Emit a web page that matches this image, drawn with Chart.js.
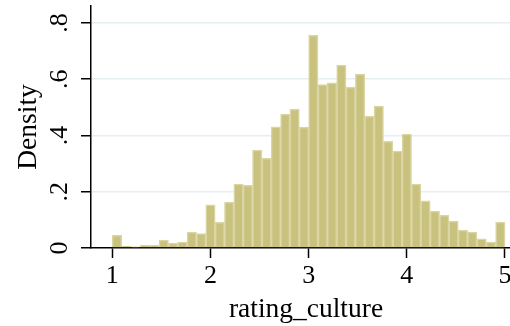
<!DOCTYPE html>
<html>
<head>
<meta charset="utf-8">
<script src="https://cdn.jsdelivr.net/npm/chart.js@4.4.1/dist/chart.umd.min.js"></script>
<style>
  html, body { margin: 0; padding: 0; background: #fff; overflow: hidden; }
  #wrap { width: 510px; height: 326px; overflow: hidden; }
</style>
</head>
<body>
<div id="wrap"><canvas id="hist" width="521" height="326"></canvas></div>
<script>
// ============================================================
// DATA — histogram of rating_culture (42 bins from 1 to 5)
// ============================================================
const binLow  = 1;
const binHigh = 5;
const density = [
  0.045, 0.006, 0.004, 0.010, 0.010, 0.028, 0.017, 0.021, 0.057, 0.051,
  0.153, 0.091, 0.163, 0.227, 0.223, 0.348, 0.319, 0.431, 0.476, 0.494,
  0.430, 0.756, 0.581, 0.587, 0.650, 0.572, 0.618, 0.468, 0.504, 0.379,
  0.344, 0.405, 0.227, 0.168, 0.131, 0.116, 0.096, 0.064, 0.057, 0.033,
  0.021, 0.092
];
const xTickValues = [1, 2, 3, 4, 5];
const xTickLabels = ['1', '2', '3', '4', '5'];
const yTickValues = [0, 0.2, 0.4, 0.6, 0.8];
const yTickLabels = ['0', '.2', '.4', '.6', '.8'];

const binWidth = (binHigh - binLow) / density.length;
const points = density.map((d, i) => ({ x: binLow + (i + 0.5) * binWidth, y: d }));

const serif = "'Liberation Serif', 'Times New Roman', serif";

// ============================================================
// CHART
// ============================================================
new Chart(document.getElementById('hist'), {
  type: 'bar',
  data: {
    datasets: [{
      data: points,
      backgroundColor: '#c9c17e',
      borderColor: '#dad5a3',
      borderWidth: 1.5,
      barPercentage: 1,
      categoryPercentage: 1
    }]
  },
  options: {
    responsive: false,
    animation: false,
    layout: { padding: { top: 6, right: 0, left: 0, bottom: 0 } },
    plugins: { legend: { display: false }, tooltip: { enabled: false } },
    scales: {
      x: {
        type: 'linear',
        min: 0.783,
        max: 5.163,
        offset: false,
        afterBuildTicks: s => { s.ticks = xTickValues.map(v => ({ value: v })); },
        afterFit: s => { s.height = 78; s.paddingLeft = 0; s.paddingRight = 0; },
        ticks: {
          color: '#000',
          font: { family: serif, size: 26 },
          padding: 3,
          maxRotation: 0,
          autoSkip: false,
          callback: v => xTickLabels[xTickValues.indexOf(v)]
        },
        grid: {
          offset: false, drawOnChartArea: false, drawTicks: true,
          tickLength: 10, tickColor: '#000', tickWidth: 1.5
        },
        border: { display: true, color: '#000', width: 1.5 },
        title: {
          display: true, text: 'rating_culture', color: '#000',
          font: { family: serif, size: 27.5 }, padding: { top: 0, bottom: 0 }
        }
      },
      y: {
        min: 0,
        max: 0.86,
        afterBuildTicks: s => { s.ticks = yTickValues.map(v => ({ value: v })); },
        afterFit: s => { s.width = 91; s.paddingTop = 0; s.paddingBottom = 0; },
        ticks: {
          color: '#000',
          font: { family: serif, size: 26 },
          padding: 11,
          minRotation: 90,
          maxRotation: 90,
          crossAlign: 'center',
          callback: v => yTickLabels[yTickValues.indexOf(v)]
        },
        grid: {
          color: c => (c.tick && c.tick.value === 0) ? 'rgba(0,0,0,0)' : '#e7eef1',
          lineWidth: 1.5,
          drawTicks: true,
          tickLength: 10,
          tickColor: '#000',
          tickWidth: 1.5
        },
        border: { display: true, color: '#000', width: 1.5 },
        title: {
          display: true, text: 'Density', color: '#000',
          font: { family: serif, size: 27.5 }, padding: { top: 12, bottom: 0 }
        }
      }
    }
  }
});
</script>
</body>
</html>
